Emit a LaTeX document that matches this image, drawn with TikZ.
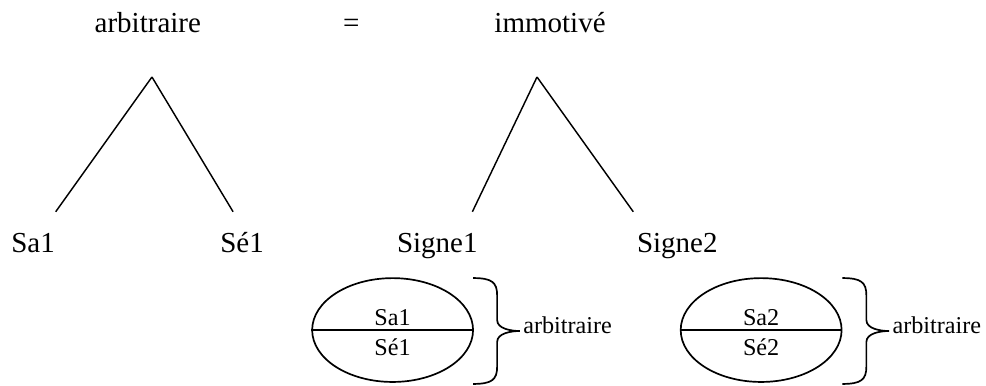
\documentclass[tikz,border=0pt]{standalone}
\usepackage{fontspec}
\setmainfont{Liberation Serif}
\usetikzlibrary{shapes.geometric}

\tikzset{
	word/.style={font=\fontsize{12}{14}\selectfont, anchor=base, inner sep=0pt},
	smallword/.style={font=\fontsize{10}{12}\selectfont, anchor=base, inner sep=0pt},
	signe/.style={draw=black, ellipse, line width=0.7pt, minimum width=2.34cm, minimum height=1.51cm, inner sep=0pt},
	accolade/.style={draw=black, line width=0.7pt}
}

\begin{document}
\begin{tikzpicture}[line width=0.6pt]
				\useasboundingbox (0, 0) rectangle (14.34, 5.6);
				% top line
				\node[word] (arb) at (2.15, 5.12) {arbitraire};
				\node[word] (egal) at (5.11, 5.12) {=};
				\node[word] (immo) at (8.0, 5.12) {immotivé};
				% the two trees
				\coordinate (apexA) at (2.21, 4.48);
				\coordinate (apexB) at (7.81, 4.48);
				\coordinate (footA1) at (0.81, 2.52);
				\coordinate (footA2) at (3.39, 2.52);
				\coordinate (footB1) at (6.87, 2.52);
				\coordinate (footB2) at (9.21, 2.52);
				\draw[draw=black] (apexA) -- (footA1);
				\draw[draw=black] (apexA) -- (footA2);
				\draw[draw=black] (apexB) -- (footB1);
				\draw[draw=black] (apexB) -- (footB2);
				\node[word] (sa) at (0.48, 1.93) {Sa1};
				\node[word] (se) at (3.52, 1.93) {Sé1};
				\node[word] (signeA) at (6.36, 1.93) {Signe1};
				\node[word] (signeB) at (9.85, 1.93) {Signe2};
				% the signs
				\node[signe] (ellA) at (5.71, 0.80) {};
				\node[signe] (ellB) at (11.07, 0.80) {};
				\draw[line width=0.7pt] (ellA.west) -- (ellA.east);
				\draw[line width=0.7pt] (ellB.west) -- (ellB.east);
				\node[smallword] (saA) at (5.71, 0.873) {Sa1};
				\node[smallword] (seA) at (5.71, 0.436) {Sé1};
				\node[smallword] (saB) at (11.07, 0.873) {Sa2};
				\node[smallword] (seB) at (11.07, 0.436) {Sé2};
				% braces
				\coordinate (braceA) at (6.88, 1.556);
				\coordinate (braceB) at (12.25, 1.556);
				\draw[accolade] (braceA) .. controls +(0.27, 0) and +(0, 0.19) .. ++(0.35, -0.25) -- ++(0, -0.36)
					.. controls +(0, -0.13) and +(-0.12, 0) .. ++(0.33, -0.16) coordinate (tipA)
					.. controls +(-0.12, 0) and +(0, 0.13) .. ++(-0.33, -0.16) -- ++(0, -0.36)
					.. controls +(0, -0.19) and +(0.27, 0) .. ++(-0.35, -0.25);
				\draw[accolade] (braceB) .. controls +(0.27, 0) and +(0, 0.19) .. ++(0.35, -0.25) -- ++(0, -0.36)
					.. controls +(0, -0.13) and +(-0.12, 0) .. ++(0.33, -0.16) coordinate (tipB)
					.. controls +(-0.12, 0) and +(0, 0.13) .. ++(-0.33, -0.16) -- ++(0, -0.36)
					.. controls +(0, -0.19) and +(0.27, 0) .. ++(-0.35, -0.25);
				\node[smallword, anchor=base west] (arbA) at (7.60, 0.756) {arbitraire};
				\node[smallword, anchor=base west] (arbB) at (12.97, 0.756) {arbitraire};
			\end{tikzpicture}
\end{document}
